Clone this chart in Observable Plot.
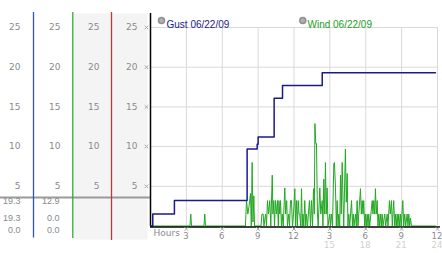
<!DOCTYPE html>
<html><head><meta charset="utf-8">
<script src="https://cdn.jsdelivr.net/npm/d3@7"></script>
<script src="https://cdn.jsdelivr.net/npm/@observablehq/plot@0.6"></script>
<style>body{margin:0;background:#fff} #chart svg{display:block}</style>
</head><body><div id="chart"></div>
<script>
const gustTime  = [0, 0.19, 2.0, 8.08, 8.92, 9.0, 10.34, 11.04, 14.36, 23.83];
const gustSpeed = [0, 1.5, 3.2, 9.7, 10.3, 11.2, 16.1, 17.7, 19.3, 19.3];

const windTime = [0,
 3.30,3.37,3.43, 4.47,4.54,4.60,
 7.94,8.03,8.14,8.24,8.36,8.43,8.50,8.57,8.64,8.70,
 9.24,9.32,9.42,9.49,9.62,9.70,9.78,9.87,9.97,10.06,10.18,10.24,10.31,10.37,10.45,10.54,10.62,10.69,10.74,10.81,10.87,10.95,
 11.01,11.10,11.23,11.30,11.39,11.45,11.56,11.62,11.71,11.79,11.87,11.96,12.07,12.14,12.21,12.29,12.35,12.42,12.48,12.56,
 12.63,12.69,12.75,12.82,12.90,12.98,13.04,13.13,13.29,13.38,13.46,13.55,13.63,13.70,13.75,13.82,13.88,13.96,14.02,
 14.16,14.24,14.36,14.42,14.49,14.57,14.63,14.70,14.77,14.84,14.99,15.05,15.13,15.22,15.33,15.38,15.47,15.54,15.61,15.68,
 15.74,15.82,15.89,15.95,16.03,16.10,16.16,16.30,16.37,16.45,16.51,16.58,16.66,16.81,16.89,16.95,17.02,17.14,17.21,17.28,17.35,
 17.56,17.63,17.70,17.77,17.83,17.91,17.98,18.04,18.12,18.19,18.25,18.33,18.54,18.60,18.67,18.75,18.81,18.88,18.96,19.02,
 19.09,19.16,19.23,19.30,19.37,19.44,19.59,19.67,19.79,19.86,19.98,20.05,20.15,20.22,20.34,20.42,20.48,20.55,20.63,20.69,
 20.76,20.84,20.90,20.97,21.10,21.17,21.26,21.34,21.46,21.53,21.60,21.67,21.74,21.82,23.83];
const windSpeed = [0,
 0,1.5,0, 0,1.5,0,
 0,3.2,1.5,2.5,4.1,0,8.0,0.5,3.8,0,
 0,1.5,1.5,0,1.5,0,3.2,1.5,3.2,0,6.4,1.5,3.2,0,3.2,1.5,3.2,0,3.2,1.5,3.2,0,
 1.5,0,4.8,1.5,3.2,0,1.5,0,3.2,3.2,0,1.5,4.7,0,3.2,0,3.2,1.5,1.5,0,
 4.7,0,1.5,0,3.2,0,1.5,0,3.2,0,3.2,0,4.7,1.5,12.9,10.4,10.4,1.5,0,
 4.8,1.5,3.2,0,5.9,1.5,8.0,1.5,4.8,0,1.5,0,1.5,0,7.8,8.0,4.8,0,3.2,0,
 1.5,0,6.4,1.5,8.0,3.2,0,9.7,3.0,6.6,0,1.5,0,3.2,0,1.5,0,1.5,0,3.2,0,
 4.7,1.5,3.2,1.5,3.2,0,1.5,0,1.5,0,1.5,0,3.2,1.5,3.2,1.5,4.7,1.5,3.2,0,
 1.5,0,1.5,0,1.5,0,1.5,0,1.5,0,3.2,1.5,3.2,0,3.2,0,1.5,0,1.5,0,
 1.5,0,1.5,0,3.2,0,1.5,0,1.5,0,1.5,0,1.0,0,0];

const yTicks = [5, 10, 15, 20, 25];
const hourTicks = [3, 6, 9, 12, 15, 18, 21, 24];
const hourLabels = ["3", "6", "9", "12", "3", "6", "9", "12"];
const pmTicks = [15, 18, 21, 24];
const pmLabels = ["15", "18", "21", "24"];
const legendLabels = ["Gust 06/22/09", "Wind 06/22/09"];
const gustStats = ["19.3", "19.3", "0.0"];
const windStats = ["12.9", "0.0", "0.0"];

const gust = gustTime.map((t, i) => ({t, v: gustSpeed[i]}));
const wind = windTime.map((t, i) => ({t, v: windSpeed[i]}));

const font = "DejaVu Sans, Verdana, sans-serif";
const font2 = "Liberation Sans, Arial, sans-serif";
const gray = "#8a8a8a";
const navy = "#1a1a8e";
const green = "#22a822";

const colDx = [-130, -90, -51, -13];
const statDy = [-21.8, -4.9, 6.8];

const marks = [
  Plot.frame({fill: "#f4f4f4", stroke: null, insetLeft: -77, insetRight: 290, insetTop: -14, insetBottom: -13.5}),
  Plot.gridY(yTicks, {stroke: "#d9d9d9", strokeOpacity: 1}),
  Plot.gridX(hourTicks, {stroke: "#d9d9d9", strokeOpacity: 1}),
  Plot.ruleY([0], {dy: -28.5, insetLeft: -150, insetRight: 287, stroke: "#9a9a9a", strokeWidth: 2}),
  Plot.ruleX([0], {dx: -117, insetTop: -15, insetBottom: -12, stroke: "#3355bb", strokeWidth: 1.3}),
  Plot.ruleX([0], {dx: -77.7, insetTop: -15, insetBottom: -12.5, stroke: "#33aa33", strokeWidth: 1.3}),
  Plot.ruleX([0], {dx: -39, insetTop: -15, insetBottom: -14.5, stroke: "#bb3b3b", strokeWidth: 1.3}),
  Plot.line(wind, {x: "t", y: "v", stroke: green, strokeWidth: 1}),
  Plot.line(gust, {x: "t", y: "v", curve: "step-after", stroke: navy, strokeWidth: 1.5}),
  Plot.ruleX([0], {insetTop: -14, stroke: "black", strokeWidth: 1.5}),
  Plot.ruleY([0], {dy: 1, insetRight: -3, stroke: "black", strokeWidth: 1.5}),
  ...colDx.map(dx => Plot.text(yTicks, {y: d => d, text: d => String(d), frameAnchor: "left", dx, textAnchor: "end", fill: gray, fontSize: 9, fontFamily: font})),
  Plot.dot(yTicks, {y: d => d, frameAnchor: "left", dx: -4, symbol: "times", r: 1.8, stroke: "#a8a8a8", strokeWidth: 1}),
  Plot.dot(hourTicks, {x: d => d, frameAnchor: "bottom", dy: 3, symbol: "times", r: 1.8, stroke: "#a8a8a8", strokeWidth: 1}),
  Plot.text(hourTicks, {x: d => d, text: (d, i) => hourLabels[i], frameAnchor: "bottom", dx: -0.5, dy: 12.5, fill: gray, fontSize: 8.5, fontFamily: font}),
  Plot.text(pmTicks, {x: d => d, text: (d, i) => pmLabels[i], frameAnchor: "bottom", dx: -0.5, dy: 21.5, fill: "#cfcfcf", fontSize: 8.5, fontFamily: font}),
  Plot.text(["Hours"], {frameAnchor: "bottom-left", dx: 3, dy: 9.5, textAnchor: "start", fill: gray, fontSize: 9, fontFamily: font}),
  Plot.dot([0], {frameAnchor: "top-left", dx: 11, dy: -7, r: 3, fill: "#b0b0b0", stroke: "#909090"}),
  Plot.dot([0], {frameAnchor: "top-left", dx: 152.3, dy: -7, r: 3, fill: "#b0b0b0", stroke: "#909090"}),
  Plot.text([legendLabels[0]], {frameAnchor: "top-left", dx: 16, dy: -7, textAnchor: "start", fill: navy, fontSize: 10, fontFamily: font2}),
  Plot.text([legendLabels[1]], {frameAnchor: "top-left", dx: 157, dy: -7, textAnchor: "start", fill: "#22a022", fontSize: 10, fontFamily: font2}),
  ...statDy.map((dy, i) => Plot.text([gustStats[i]], {frameAnchor: "bottom-left", dx: -130, dy, textAnchor: "end", fill: gray, fontSize: 9, fontFamily: font2})),
  ...statDy.map((dy, i) => Plot.text([windStats[i]], {frameAnchor: "bottom-left", dx: -91, dy, textAnchor: "end", fill: gray, fontSize: 9, fontFamily: font2}))
];

const chart = Plot.plot({
  width: 442,
  height: 253,
  marginLeft: 150,
  marginRight: 5,
  marginTop: 27,
  marginBottom: 27.5,
  x: {domain: [0, 24], axis: null},
  y: {domain: [0, 25], axis: null},
  style: {background: "transparent", fontFamily: font},
  marks
});
document.getElementById("chart").appendChild(chart);
</script>
</body></html>
